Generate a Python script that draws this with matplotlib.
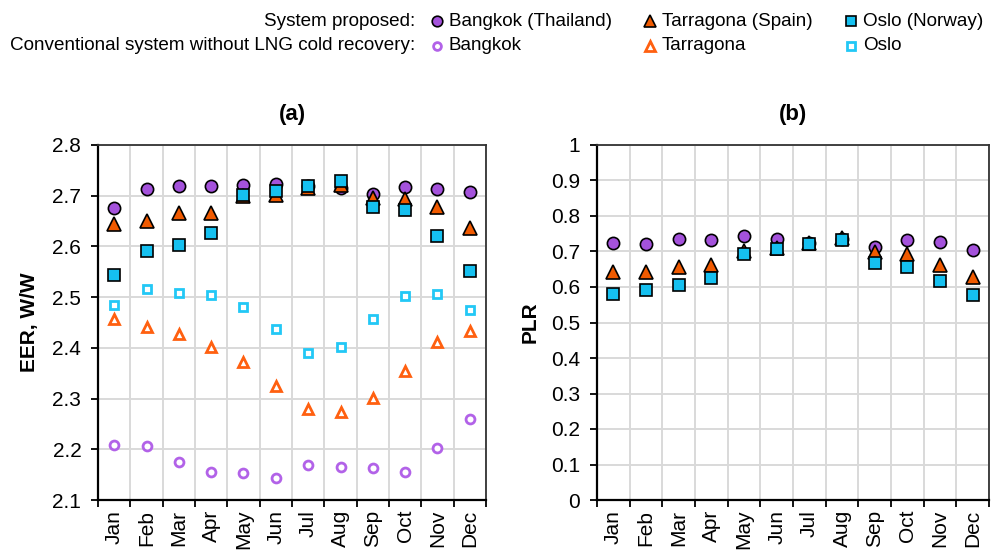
import matplotlib
matplotlib.use("Agg")
import matplotlib.pyplot as plt
import numpy as np

plt.rcParams['font.family'] = ['Liberation Sans', 'DejaVu Sans']

months = ["Jan", "Feb", "Mar", "Apr", "May", "Jun", "Jul", "Aug", "Sep", "Oct", "Nov", "Dec"]

# (a) EER, W/W - system proposed
eer_bangkok = [2.676, 2.713, 2.720, 2.720, 2.722, 2.723, 2.720, 2.715, 2.704, 2.717, 2.714, 2.707]
eer_tarragona = [2.644, 2.651, 2.666, 2.666, 2.700, 2.702, 2.715, 2.722, 2.696, 2.694, 2.677, 2.637]
eer_oslo = [2.543, 2.591, 2.603, 2.626, 2.701, 2.710, 2.720, 2.730, 2.677, 2.672, 2.620, 2.551]
# (a) EER, W/W - conventional system without LNG cold recovery
eer_bangkok_conv = [2.208, 2.2065, 2.174, 2.155, 2.154, 2.144, 2.169, 2.166, 2.164, 2.156, 2.2025, 2.259]
eer_tarragona_conv = [2.457, 2.4415, 2.4265, 2.402, 2.372, 2.324, 2.280, 2.274, 2.301, 2.354, 2.411, 2.434]
eer_oslo_conv = [2.485, 2.516, 2.509, 2.505, 2.481, 2.4375, 2.390, 2.402, 2.456, 2.502, 2.507, 2.475]

# (b) PLR - system proposed
plr_bangkok = [0.724, 0.7225, 0.734, 0.731, 0.743, 0.734, 0.725, 0.735, 0.712, 0.732, 0.726, 0.7056]
plr_tarragona = [0.642, 0.642, 0.656, 0.661, 0.700, 0.710, 0.723, 0.737, 0.699, 0.694, 0.661, 0.629]
plr_oslo = [0.579, 0.591, 0.607, 0.626, 0.694, 0.7075, 0.7225, 0.731, 0.668, 0.657, 0.616, 0.577]

eer_ticks = [2.1, 2.2, 2.3, 2.4, 2.5, 2.6, 2.7, 2.8]
plr_ticks = [0, 0.1, 0.2, 0.3, 0.4, 0.5, 0.6, 0.7, 0.8, 0.9, 1]

legend_rows = ["System proposed:", "Conventional system without LNG cold recovery:"]
labels_proposed = ["Bangkok (Thailand)", "Tarragona (Spain)", "Oslo (Norway)"]
labels_conv = ["Bangkok", "Tarragona", "Oslo"]

PURPLE = "#A452DB"
PURPLE_L = "#B262E8"
ORANGE = "#F05A00"
ORANGE_L = "#FF6010"
CYAN = "#15C0F0"
CYAN_L = "#22C8F6"

fig = plt.figure(figsize=(9.92, 5.51), dpi=100)
axL = fig.add_axes([98/992, 51/551, 388/992, 355/551])
axR = fig.add_axes([597/992, 51/551, 392/992, 355/551])

x = np.arange(len(months))
FS = 15

def style(ax, ticks, ylim, fmt):
    ax.set_xlim(-0.5, len(months) - 0.5)
    ax.set_ylim(*ylim)
    ax.set_yticks(ticks)
    ax.set_yticklabels([fmt(t) for t in ticks], fontsize=FS)
    ax.set_xticks(x)
    ax.set_xticklabels(months, rotation=90, fontsize=FS)
    ax.tick_params(axis='x', which='major', length=0, pad=7)
    ax.set_xticks(np.arange(len(months) + 1) - 0.5, minor=True)
    ax.tick_params(axis='x', which='minor', length=5, width=1.3, direction='out')
    ax.tick_params(axis='y', length=5, width=1.3, direction='out', pad=7)
    ax.grid(True, which='minor', axis='x', color='#D9D9D9', lw=1.4)
    ax.grid(True, which='major', axis='y', color='#D9D9D9', lw=1.4)
    ax.set_axisbelow(True)
    for s in ['left', 'bottom']:
        ax.spines[s].set_linewidth(1.6)
        ax.spines[s].set_color('black')
    for s in ['top', 'right']:
        ax.spines[s].set_linewidth(1.3)
        ax.spines[s].set_color('#333333')

def fmt_eer(t):
    return f"{t:.1f}"

def fmt_plr(t):
    return "0" if t == 0 else ("1" if t == 1 else f"{t:.1f}")

filled = dict(ls='none', markeredgecolor='black', markeredgewidth=1.2, zorder=3)
hollow = dict(ls='none', markerfacecolor='white', markeredgewidth=2.0, zorder=3)

# Left panel
axL.plot(x, eer_bangkok_conv, marker='o', ms=6.4, markeredgecolor=PURPLE_L, **hollow)
axL.plot(x, eer_tarragona_conv, marker='^', ms=7.8, markeredgecolor=ORANGE_L, **hollow)
axL.plot(x, eer_oslo_conv, marker='s', ms=6.4, markeredgecolor=CYAN_L, **hollow)
axL.plot(x, eer_bangkok, marker='o', ms=8.8, markerfacecolor=PURPLE, **filled)
axL.plot(x, eer_tarragona, marker='^', ms=9.8, markerfacecolor=ORANGE, **filled)
axL.plot(x, eer_oslo, marker='s', ms=8.6, markerfacecolor=CYAN, **filled)
style(axL, eer_ticks, (2.1, 2.8), fmt_eer)
axL.set_ylabel("EER, W/W", fontsize=FS, fontweight='bold', labelpad=10)
axL.set_title("(a)", fontsize=16, fontweight='bold', pad=18)

# Right panel
axR.plot(x, plr_bangkok, marker='o', ms=8.8, markerfacecolor=PURPLE, **filled)
axR.plot(x, plr_tarragona, marker='^', ms=9.8, markerfacecolor=ORANGE, **filled)
axR.plot(x, plr_oslo, marker='s', ms=8.6, markerfacecolor=CYAN, **filled)
style(axR, plr_ticks, (0, 1), fmt_plr)
axR.set_ylabel("PLR", fontsize=FS, fontweight='bold', labelpad=8)
axR.set_title("(b)", fontsize=16, fontweight='bold', pad=18)

# Legend (custom, two rows)
lg = fig.add_axes([0, 0, 1, 1], facecolor='none')
lg.set_xlim(0, 992)
lg.set_ylim(551, 0)
lg.axis('off')
row1, row2 = 21, 46
LFS = 13.6
lg.text(415, row1, legend_rows[0], ha='right', va='center', fontsize=LFS)
lg.text(415, row2, legend_rows[1], ha='right', va='center', fontsize=LFS)
cols = [(437, 'o', PURPLE, PURPLE_L, 7.6, 5.6),
        (650, '^', ORANGE, ORANGE_L, 8.6, 7.0),
        (851, 's', CYAN, CYAN_L, 7.4, 5.6)]
for (cx, m, fc, lc, s1, s2), l1, l2 in zip(cols, labels_proposed, labels_conv):
    lg.plot([cx], [row1], marker=m, ms=s1, ls='none', markerfacecolor=fc,
            markeredgecolor='black', markeredgewidth=1.2)
    lg.plot([cx], [row2], marker=m, ms=s2, ls='none', markerfacecolor='white',
            markeredgecolor=lc, markeredgewidth=2)
    lg.text(cx + 12, row1, l1, ha='left', va='center', fontsize=LFS)
    lg.text(cx + 12, row2, l2, ha='left', va='center', fontsize=LFS)

fig.savefig("out.png", dpi=100)
